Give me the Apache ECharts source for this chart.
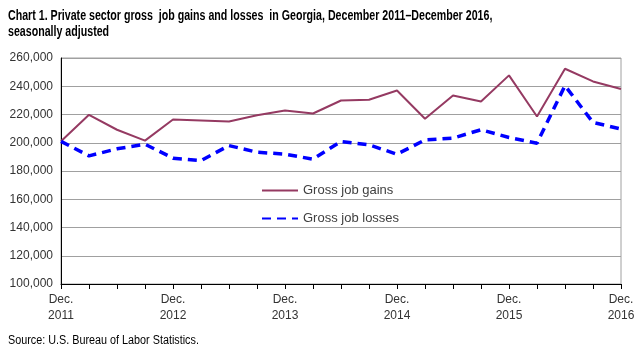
<!DOCTYPE html>
<html>
<head>
<meta charset="utf-8">
<script src="https://cdn.jsdelivr.net/npm/echarts@6/dist/echarts.min.js"></script>
<style>
  body { margin: 0; background: #fff; }
  #chart { width: 642px; height: 350px; }
</style>
</head>
<body>
<div id="chart"></div>
<script>
  // quarterly, Dec 2011 .. Dec 2016
  var quarters = ['Dec. 2011','Mar. 2012','Jun. 2012','Sep. 2012','Dec. 2012','Mar. 2013','Jun. 2013','Sep. 2013',
    'Dec. 2013','Mar. 2014','Jun. 2014','Sep. 2014','Dec. 2014','Mar. 2015','Jun. 2015','Sep. 2015',
    'Dec. 2015','Mar. 2016','Jun. 2016','Sep. 2016','Dec. 2016'];
  var gains = [201000,219800,209200,201500,216500,215800,215000,219400,222900,220700,
    229900,230400,237000,217000,233500,229200,247700,218600,252400,243400,238000];
  var losses = [201000,190700,195700,199000,189100,187400,198000,193300,191900,188400,
    200900,198500,191900,202000,203300,209200,203700,199700,240400,214400,209700];

  var font = '"Liberation Sans", Arial, sans-serif';
  var chart = echarts.init(document.getElementById('chart'));
  chart.setOption({
    animation: false,
    // title and source drawn as condensed text (no narrow font installed)
    graphic: [{
      type: 'text', x: 8, y: 8, scaleX: 0.76,
      style: {
        text: 'Chart 1. Private sector gross  job gains and losses  in Georgia, December 2011\u2013December 2016,\nseasonally adjusted',
        font: 'bold 14px "Liberation Sans", Arial, sans-serif', fill: '#000', lineHeight: 16
      }
    }, {
      type: 'text', x: 8, y: 335, scaleX: 0.9,
      style: { text: 'Source: U.S. Bureau of Labor Statistics.', font: '12px "Liberation Sans", Arial, sans-serif', fill: '#000' }
    }],
    grid: { left: 61, right: 21, top: 58, bottom: 66, show: true, borderColor: '#a0a0a0', borderWidth: 1 },
    legend: {
      orient: 'vertical', left: 256, top: 179, itemGap: 15,
      itemWidth: 36, itemHeight: 10,
      itemStyle: { opacity: 0 },
      textStyle: { fontFamily: font, fontSize: 13, color: '#404040' },
      data: ['Gross job gains', 'Gross job losses']
    },
    xAxis: {
      type: 'category', boundaryGap: false, data: quarters,
      axisLine: { lineStyle: { color: '#000', width: 1 } },
      axisTick: { interval: 0, length: 5, lineStyle: { color: '#000' } },
      axisLabel: {
        interval: 3, margin: 8, color: '#333', fontFamily: font, fontSize: 12, lineHeight: 16,
        formatter: function (v) { return v.replace(' ', '\n'); }
      },
      splitLine: { show: false }
    },
    yAxis: {
      type: 'value', min: 100000, max: 260000, interval: 20000,
      axisLine: { show: true, lineStyle: { color: '#000', width: 1 } },
      axisTick: { show: false },
      axisLabel: {
        margin: 8, color: '#333', fontFamily: font, fontSize: 12,
        formatter: function (v) { return v.toLocaleString('en-US'); }
      },
      splitLine: { lineStyle: { color: '#a0a0a0', width: 1 } }
    },
    series: [{
      name: 'Gross job gains', type: 'line', data: gains,
      symbol: 'none', lineStyle: { color: '#953a62', width: 2 }, itemStyle: { color: '#953a62' }
    }, {
      name: 'Gross job losses', type: 'line', data: losses,
      symbol: 'none', lineStyle: { color: '#0000ff', width: 3.5, type: [9, 6] }, itemStyle: { color: '#0000ff' }
    }]
  });
</script>
</body>
</html>
